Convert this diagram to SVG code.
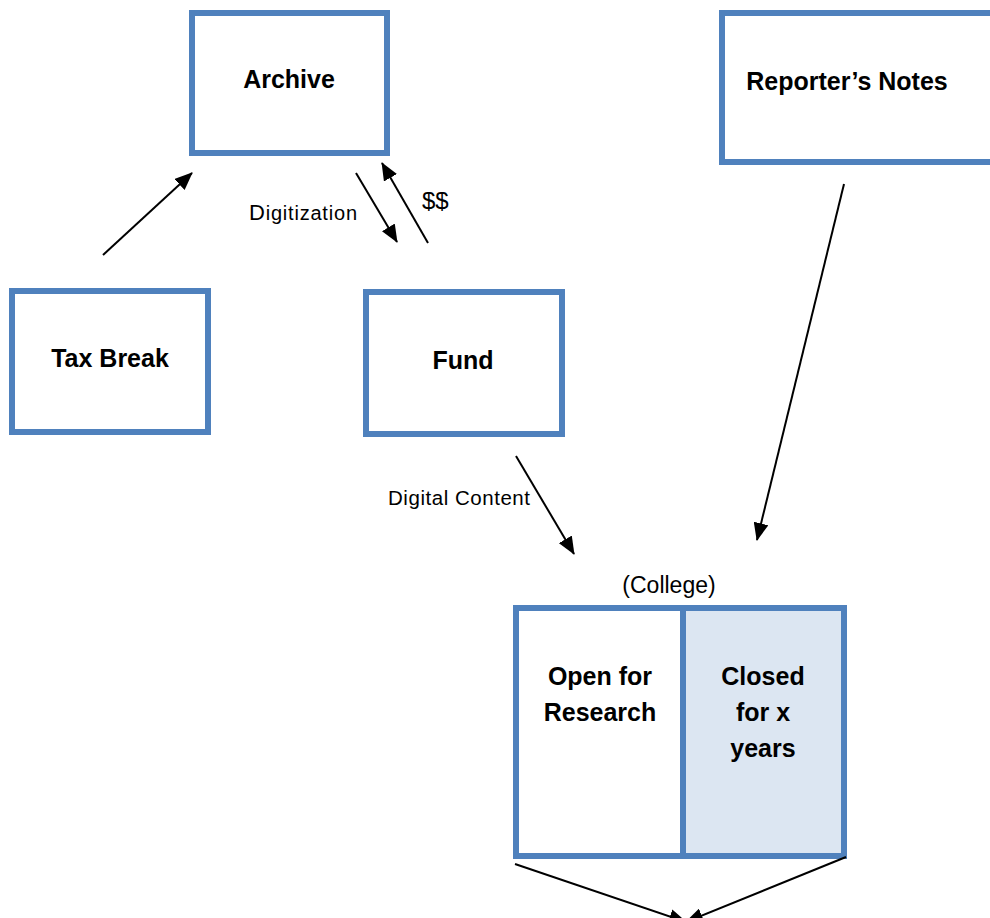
<svg xmlns="http://www.w3.org/2000/svg" width="990" height="918" viewBox="0 0 990 918">
<style>
.box{fill:#ffffff;stroke:#4f81bd;stroke-width:6}
.lbl{font-family:"Liberation Sans",Arial,sans-serif;font-weight:bold;font-size:25px;fill:#000;text-anchor:middle}
.txt{font-family:"Liberation Sans",Arial,sans-serif;fill:#000}
.conn{stroke:#000;stroke-width:2;fill:none;marker-end:url(#ah)}
</style>
<defs>
<marker id="ah" markerUnits="userSpaceOnUse" markerWidth="19" markerHeight="15" refX="17" refY="7.5" orient="auto">
<path d="M0,0 L18,7.5 L0,15 z" fill="#000"/>
</marker>
</defs>
<rect width="990" height="918" fill="#ffffff"/>
<g id="archive">
<rect class="box" x="192" y="13" width="195" height="140"/>
<text class="lbl" x="289" y="88">Archive</text>
</g>
<g id="reporters-notes">
<rect class="box" x="722" y="13" width="300" height="149"/>
<text class="lbl" x="847" y="90">Reporter’s Notes</text>
</g>
<g id="tax-break">
<rect class="box" x="12" y="291" width="196" height="141"/>
<text class="lbl" x="110" y="367">Tax Break</text>
</g>
<g id="fund">
<rect class="box" x="366" y="292" width="196" height="142"/>
<text class="lbl" x="463" y="369">Fund</text>
</g>
<g id="college">
<text class="txt" x="669" y="593" font-size="23" text-anchor="middle">(College)</text>
<rect x="683" y="608" width="161" height="248" fill="#dce6f2"/>
<rect x="516" y="608" width="328" height="248" fill="none" stroke="#4f81bd" stroke-width="6"/>
<line x1="683" y1="608" x2="683" y2="856" stroke="#4f81bd" stroke-width="6"/>
<g id="open-for-research">
<text class="lbl" x="600" y="685">Open for</text>
<text class="lbl" x="600" y="721">Research</text>
</g>
<g id="closed-for-x-years">
<text class="lbl" x="763" y="685">Closed</text>
<text class="lbl" x="763" y="721">for x</text>
<text class="lbl" x="763" y="757">years</text>
</g>
</g>
<g id="connectors">
<line class="conn" x1="103" y1="255" x2="192" y2="173"/>
<line class="conn" x1="356" y1="173" x2="397" y2="242"/>
<line class="conn" x1="428" y1="243" x2="382" y2="163"/>
<line class="conn" x1="516" y1="456" x2="574" y2="554"/>
<line class="conn" x1="844" y1="184" x2="757" y2="540"/>
<line class="conn" x1="515" y1="864" x2="686" y2="922"/>
<line class="conn" x1="846" y1="857" x2="686" y2="922"/>
<text class="txt" x="249" y="220" font-size="20" textLength="108" lengthAdjust="spacing"><tspan font-size="22">D</tspan>igitization</text>
<text class="txt" x="422" y="209" font-size="24">$$</text>
<text class="txt" x="388" y="505" font-size="20.5" textLength="142" lengthAdjust="spacing">Digital Content</text>
</g>
</svg>
